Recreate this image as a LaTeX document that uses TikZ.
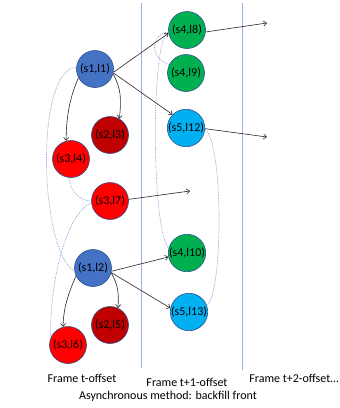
\documentclass[tikz,border=0pt]{standalone}
\usepackage{fontspec}
\setmainfont{Carlito}
\usetikzlibrary{arrows.meta}
\definecolor{cblue}{HTML}{4472C4}
\definecolor{cdred}{HTML}{C00000}
\definecolor{cred}{HTML}{FF0000}
\definecolor{cgreen}{HTML}{00B050}
\definecolor{clblue}{HTML}{00B0F0}
\definecolor{cborder}{HTML}{2F528F}
\definecolor{cline}{HTML}{8FAADC}
\tikzset{
  st/.style={circle, draw=cborder, line width=0.6pt, minimum size=37pt, inner sep=0pt, font=\fontsize{12}{14}\selectfont},
  arr/.style={draw=black!85, line width=0.6pt, -{Straight Barb[length=3pt,width=5pt]}},
  dsh/.style={draw=cline, line width=0.6pt, dash pattern=on 1.5pt off 1pt},
  frame/.style={draw=cline!90, line width=0.8pt},
  lbl/.style={font=\fontsize{12}{14}\selectfont, inner sep=0pt}
}
\begin{document}
\begin{tikzpicture}[x=1pt,y=-1pt]
\useasboundingbox (0,0) rectangle (340,408);
% frame separators
\coordinate (f1t) at (141,3); \coordinate (f1b) at (141,368);
\coordinate (f2t) at (242,3); \coordinate (f2b) at (242,370);
\draw[frame] (f1t) -- (f1b);
\draw[frame] (f2t) -- (f2b);
% nodes
\node[st, fill=cblue]  (s1l1)  at (95,69)   {(s1,l1)};
\node[st, fill=cdred]  (s2l3)  at (110,135) {(s2,l3)};
\node[st, fill=cred]   (s3l4)  at (71,159)  {(s3,l4)};
\node[st, fill=cred]   (s3l7)  at (110,201) {(s3,l7)};
\node[st, fill=cblue]  (s1l2)  at (93,268)  {(s1,l2)};
\node[st, fill=cdred]  (s2l5)  at (110,325) {(s2,l5)};
\node[st, fill=cred]   (s3l6)  at (68,345)  {(s3,l6)};
\node[st, fill=cgreen] (s4l8)  at (187,30)  {(s4,l8)};
\node[st, fill=cgreen] (s4l9)  at (186,73)  {(s4,l9)};
\node[st, fill=clblue] (s5l12) at (186,128) {(s5,l12)};
\node[st, fill=cgreen] (s4l10) at (187,253) {(s4,l10)};
\node[st, fill=clblue] (s5l13) at (189,312) {(s5,l13)};
% free ends
\coordinate (e8)  at (267,23);
\coordinate (e12) at (267,137);
\coordinate (e7)  at (190,191);
% dashed links
\draw[dsh] (s1l1.175) .. controls +(-42,2) and +(-35,-20) .. (s1l2.190);
\draw[dsh] (s3l4.-95) .. controls +(0,12) and +(-12,0) .. (s3l7.180);
\draw[dsh] (s3l7.185) .. controls +(-27,12) and +(-2,-47) .. (s3l6.156);
\draw[dsh] (s4l8.186) .. controls +(-20,3) and +(-18,-5) .. (s4l9.153);
\draw[dsh] (s4l8.186) .. controls +(-18,8) and +(-17,-17) .. (s4l10.165);
\draw[dsh] (s5l12.-5) .. controls +(18,10) and +(17,-15) .. (s5l13.20);
% arrows
\draw[arr] (s1l1.-10) -- (s4l8.190);
\draw[arr] (s1l1.-12) -- (s5l12.135);
\draw[arr] (s1l1.-15) .. controls +(8,15) and +(2,-20) .. (s2l3.60);
\draw[arr] (s1l1.-152) .. controls +(-8,18) and +(0,-25) .. (s3l4.105);
\draw[arr] (s1l2.-10) -- (s4l10.192);
\draw[arr] (s1l2.-14) -- (s5l13.168);
\draw[arr] (s1l2.-15) .. controls +(7,12) and +(1,-15) .. (s2l5.65);
\draw[arr] (s1l2.-155) .. controls +(-6,14) and +(0,-20) .. (s3l6.105);
\draw[arr] (s4l8.-6) -- (e8);
\draw[arr] (s5l12.-2) -- (e12);
\draw[arr] (s3l7.5) -- (e7);
% labels
\node[lbl] (t0) at (82,378) {Frame t-offset};
\node[lbl] (t1) at (187,382) {Frame t+1-offset};
\node[lbl] (t2) at (294,378) {Frame t+2-offset…};
\node[lbl] (cap) at (168,396) {Asynchronous method: backfill front};
\end{tikzpicture}
\end{document}
